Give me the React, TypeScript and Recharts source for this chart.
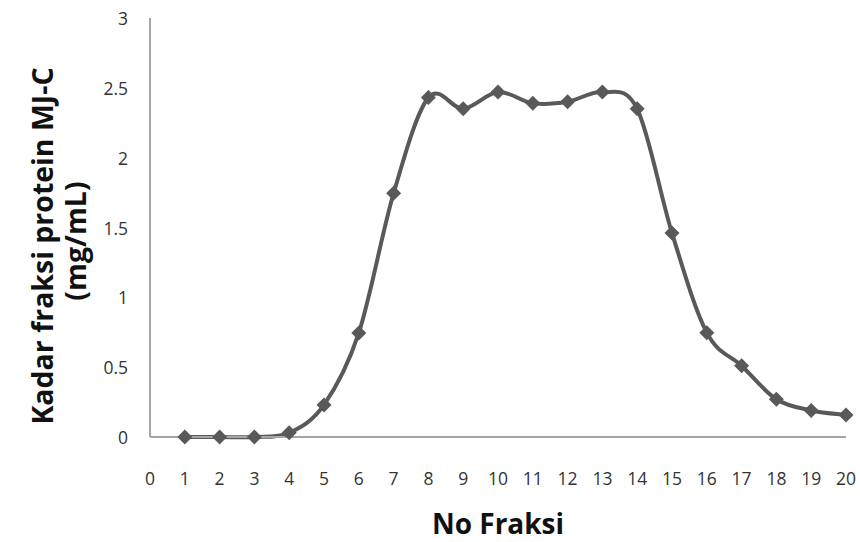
import React from 'react';
import { LineChart, Line, XAxis, YAxis } from 'recharts';

const fraksi = [1, 2, 3, 4, 5, 6, 7, 8, 9, 10, 11, 12, 13, 14, 15, 16, 17, 18, 19, 20];
const kadar = [0, 0, 0, 0.03, 0.23, 0.745, 1.745, 2.43, 2.35, 2.47, 2.39, 2.4, 2.47, 2.35, 1.46, 0.747, 0.51, 0.27, 0.19, 0.158];
const xTicks = [0, 1, 2, 3, 4, 5, 6, 7, 8, 9, 10, 11, 12, 13, 14, 15, 16, 17, 18, 19, 20];
const yTicks = [0, 0.5, 1, 1.5, 2, 2.5, 3];
const xTitle = 'No Fraksi';
const yTitle1 = 'Kadar fraksi protein MJ-C';
const yTitle2 = '(mg/mL)';

const data = fraksi.map((f, i) => ({ f, v: kadar[i] }));

const FONT = '"Open Sans", "DejaVu Sans", sans-serif';
const LINE = '#595959';
const AXIS = '#a6a6a6';

function excelCurve(context: any) {
  let pts: number[][] = [];
  return {
    areaStart() {},
    areaEnd() {},
    lineStart() {
      pts = [];
    },
    lineEnd() {
      if (!pts.length) return;
      context.moveTo(pts[0][0], pts[0][1]);
      for (let i = 0; i < pts.length - 1; i++) {
        const p0 = pts[i - 1] || pts[i];
        const p1 = pts[i];
        const p2 = pts[i + 1];
        const p3 = pts[i + 2] || p2;
        const c1x = p1[0] + (p2[0] - p0[0]) / 6;
        const c1y = p1[1] + (p2[1] - p0[1]) / 6;
        const c2x = p2[0] - (p3[0] - p1[0]) / 6;
        const c2y = p2[1] - (p3[1] - p1[1]) / 6;
        context.bezierCurveTo(c1x, c1y, c2x, c2y, p2[0], p2[1]);
      }
    },
    point(x: number, y: number) {
      pts.push([+x, +y]);
    },
  };
}

const Diamond = (props: any) => {
  const { cx, cy } = props;
  if (cx == null || cy == null) return null;
  const r = 7.5;
  return (
    <polygon
      points={`${cx},${cy - r} ${cx + r},${cy} ${cx},${cy + r} ${cx - r},${cy}`}
      fill={LINE}
      stroke="none"
    />
  );
};

const XTick = (props: any) => {
  const { x, y, payload } = props;
  return (
    <text x={x} y={y + 39} textAnchor="middle" dominantBaseline="central" fontFamily={FONT} fontSize={17.5} fill="#333">
      {payload.value}
    </text>
  );
};

const YTick = (props: any) => {
  const { x, y, payload } = props;
  return (
    <text x={x - 20} y={y} textAnchor="end" dominantBaseline="central" fontFamily={FONT} fontSize={17.5} fill="#333">
      {payload.value}
    </text>
  );
};

export default function App() {
  return (
    <div style={{ position: 'absolute', left: 0, top: 0, width: 860, height: 542, background: '#fff' }}>
      <LineChart width={860} height={542} data={data} margin={{ top: 18, right: 14, bottom: 0, left: 0 }}>
        <XAxis
          dataKey="f"
          type="number"
          domain={[0, 20]}
          ticks={xTicks}
          interval={0}
          height={105}
          tickSize={0}
          tickLine={false}
          axisLine={{ stroke: AXIS, strokeWidth: 2 }}
          tick={<XTick />}
          label={{
            content: () => (
              <text x={498} y={523} textAnchor="middle" dominantBaseline="central" fontFamily={FONT} fontWeight="bold" fontSize={28} fill="#111">
                {xTitle}
              </text>
            ),
          }}
        />
        <YAxis
          type="number"
          domain={[0, 3]}
          ticks={yTicks}
          interval={0}
          width={150}
          tickSize={0}
          tickLine={false}
          axisLine={{ stroke: AXIS, strokeWidth: 2 }}
          tick={<YTick />}
          label={{
            content: () => (
              <g>
                <text x={42} y={246} transform="rotate(-90 42 246)" textAnchor="middle" dominantBaseline="central" fontFamily={FONT} fontWeight="bold" fontSize={28.5} fill="#111">
                  {yTitle1}
                </text>
                <text x={75} y={241} transform="rotate(-90 75 241)" textAnchor="middle" dominantBaseline="central" fontFamily={FONT} fontWeight="bold" fontSize={28.5} fill="#111">
                  {yTitle2}
                </text>
              </g>
            ),
          }}
        />
        <Line
          dataKey="v"
          type={excelCurve as any}
          stroke={LINE}
          strokeWidth={4}
          dot={<Diamond />}
          activeDot={false}
          isAnimationActive={false}
        />
      </LineChart>
    </div>
  );
}
